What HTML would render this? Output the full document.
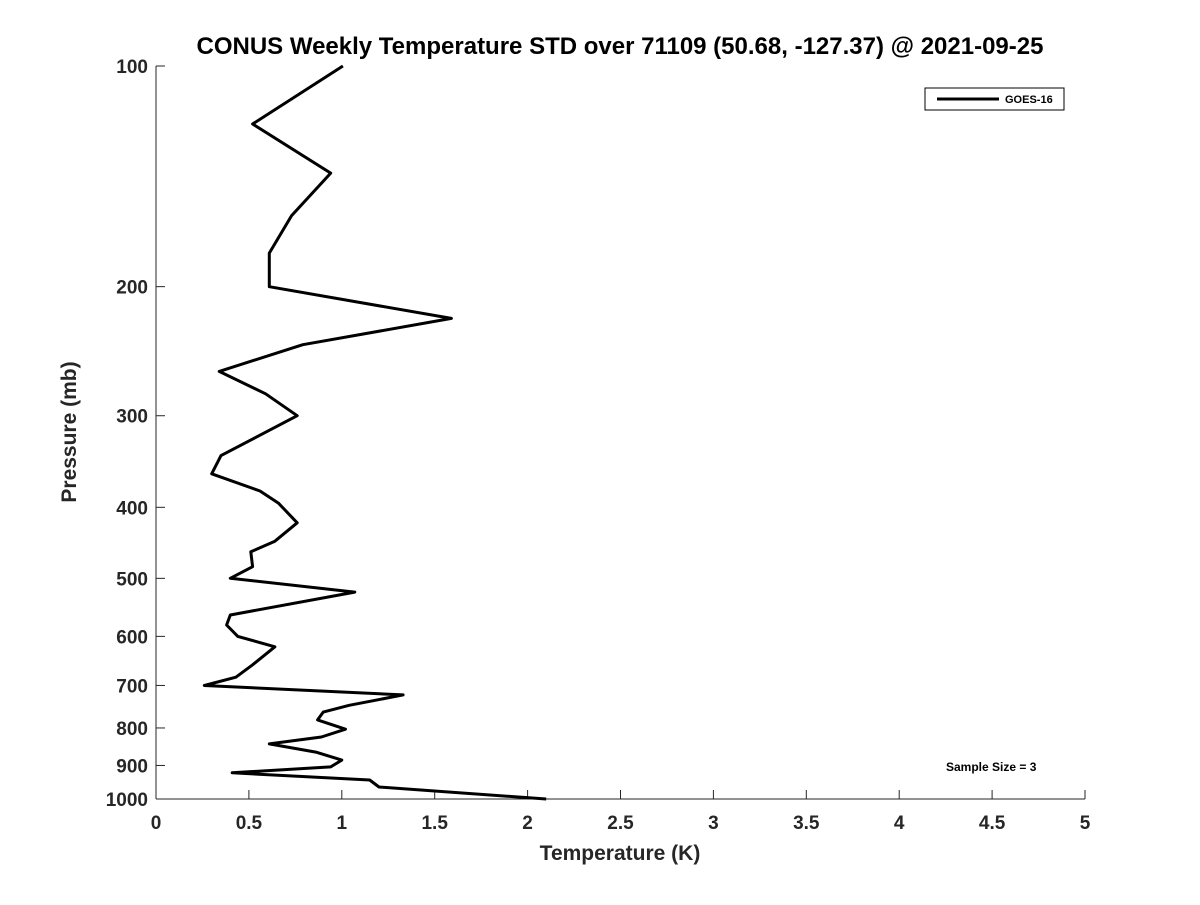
<!DOCTYPE html>
<html><head><meta charset="utf-8"><style>
body{margin:0;background:#fff;}
svg text{font-family:"Liberation Sans","DejaVu Sans",sans-serif;font-weight:bold;fill:#262626;}
</style></head><body>
<svg width="1200" height="900" xmlns="http://www.w3.org/2000/svg">
<rect width="1200" height="900" fill="#fff"/>
<text x="620" y="54" text-anchor="middle" font-size="24" style="fill:#000">CONUS Weekly Temperature STD over 71109 (50.68, -127.37) @ 2021-09-25</text>
<g id="axes"></g>
<path id="line" fill="none" stroke="#000" stroke-width="3" stroke-linejoin="round"/>
<g>
<rect x="925" y="88" width="139" height="22" fill="#fff" stroke="#000" stroke-width="1"/>
<line x1="937" y1="99" x2="999" y2="99" stroke="#000" stroke-width="3"/>
<text x="1005" y="103" font-size="11" style="fill:#000">GOES-16</text>
</g>
<text x="946" y="771" font-size="12" style="fill:#000">Sample Size = 3</text>
<text x="620" y="860" text-anchor="middle" font-size="21">Temperature (K)</text>
<text transform="translate(76,432) rotate(-90)" text-anchor="middle" font-size="21">Pressure (mb)</text>
</svg>
<script>
const temps=[1.006,0.52,0.94,0.73,0.61,0.61,1.59,0.79,0.34,0.59,0.76,0.35,0.30,0.56,0.66,0.76,0.64,0.51,0.52,0.40,1.07,0.40,0.38,0.44,0.64,0.52,0.43,0.26,1.33,1.04,0.90,0.87,1.02,0.89,0.61,0.86,1.00,0.94,0.41,1.15,1.20,2.10];
const pressures=[100,120,140,160,180,200,221,240,261,280,300,340,360,380,395,420,445,460,482,500,522,561,579,600,620,656,682,700,721,745,761,780,803,823,841,863,885,904,921,942,963,1000];
const xTicks=[0,0.5,1,1.5,2,2.5,3,3.5,4,4.5,5];
const yTicks=[100,200,300,400,500,600,700,800,900,1000];
const X0=156,X1=1085,Y0=66,Y1=799;
const xs=v=>X0+(v-0)/(5-0)*(X1-X0);
const ys=p=>Y0+(Math.log10(p)-2)*(Y1-Y0);
const NS="http://www.w3.org/2000/svg";
const ax=document.getElementById('axes');
function mk(t,a,txt){const e=document.createElementNS(NS,t);for(const k in a)e.setAttribute(k,a[k]);if(txt!=null)e.textContent=txt;ax.appendChild(e);return e;}
let l=mk('line',{x1:X0,y1:Y0,x2:X0,y2:Y1,stroke:'#262626','stroke-width':1});


l=mk('line',{x1:X0,y1:Y1,x2:X1,y2:Y1,stroke:'#262626','stroke-width':1});


xTicks.forEach(v=>{
 mk('line',{x1:xs(v),y1:Y1,x2:xs(v),y2:Y1-9,stroke:'#262626'});
 const t=mk('text',{x:xs(v),y:Y1+30,'text-anchor':'middle','font-size':19},String(v));
 
 
});
yTicks.forEach(p=>{
 mk('line',{x1:X0,y1:ys(p),x2:X0+9,y2:ys(p),stroke:'#262626'});
 const t=mk('text',{x:X0-8,y:ys(p)+7,'text-anchor':'end','font-size':19},String(p));
 
 
});
document.getElementById('line').setAttribute('d',temps.map((v,i)=>(i?'L':'M')+xs(v).toFixed(1)+' '+ys(pressures[i]).toFixed(1)).join(' '));
</script>
</body></html>
